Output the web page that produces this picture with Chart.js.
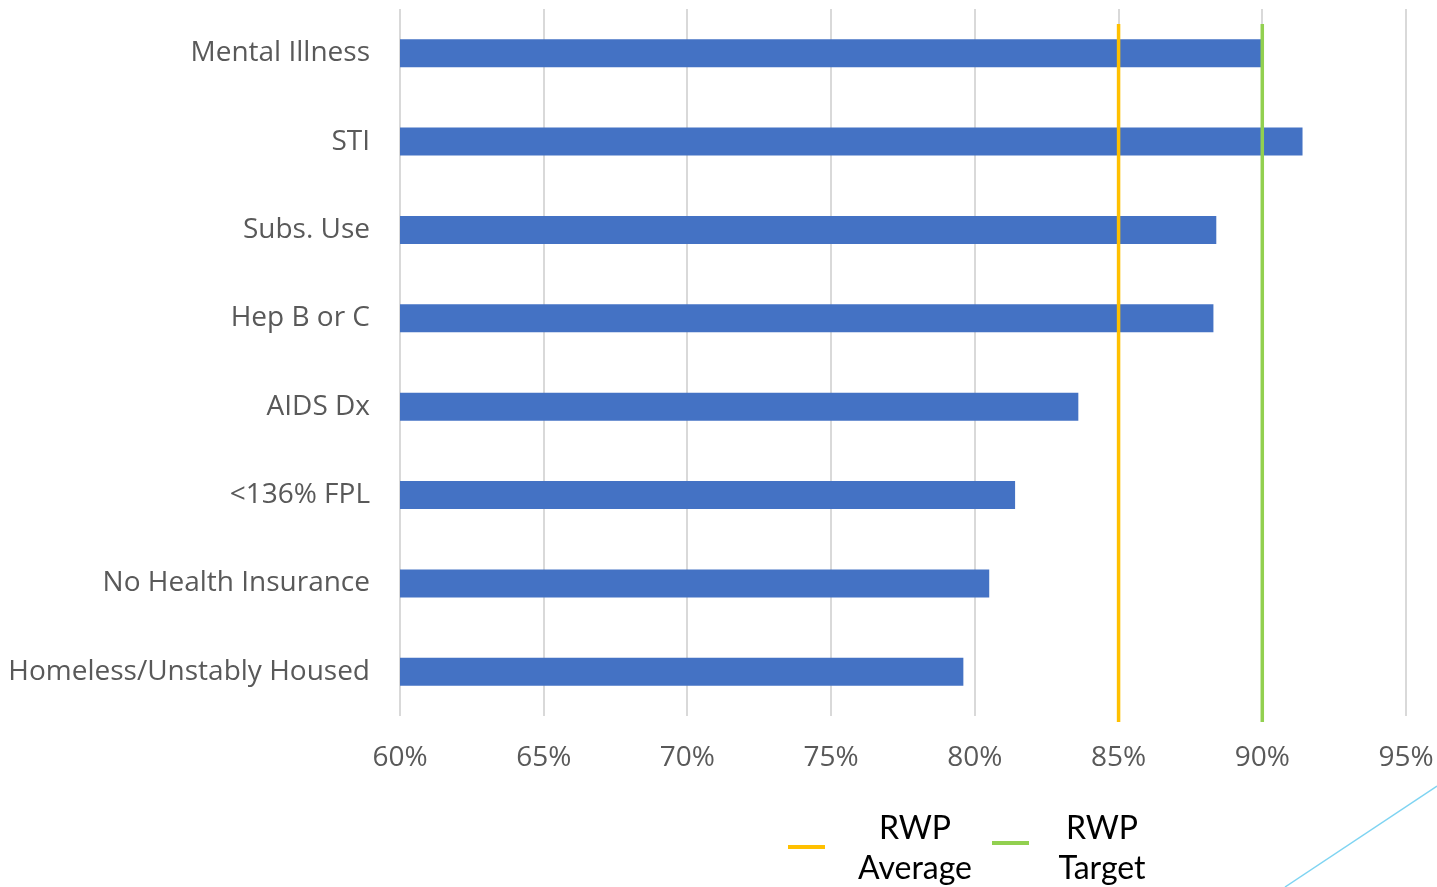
<!DOCTYPE html>
<html>
<head>
<meta charset="utf-8">
<script src="https://cdn.jsdelivr.net/npm/chart.js@4.4.1/dist/chart.umd.min.js"></script>
<style>
  html, body { margin: 0; padding: 0; background: #fff; }
  #wrap { position: relative; width: 1437px; height: 887px; overflow: hidden; }
  #myChart { position: absolute; left: 0; top: 0; }
  .leg { position: absolute; font-family: Lato, "Open Sans", sans-serif; font-size: 32px; color: #000; text-align: center; line-height: 40px; }
  .mark { position: absolute; height: 4px; }
  #deco { position: absolute; left: 0; top: 0; }
</style>
</head>
<body>
<div id="wrap">
  <canvas id="myChart" width="1437" height="887"></canvas>
  <div id="legend"></div>
  <svg id="deco" width="1437" height="887">
    <line x1="1285" y1="887" x2="1437" y2="786" stroke="#7fd4f2" stroke-width="1.5"/>
  </svg>
</div>
<script>
var groups = ["Mental Illness", "STI", "Subs. Use", "Hep B or C", "AIDS Dx", "<136% FPL", "No Health Insurance", "Homeless/Unstably Housed"];
var rates = [90.0, 91.4, 88.4, 88.3, 83.6, 81.4, 80.5, 79.6];
var refNames = [["RWP", "Average"], ["RWP", "Target"]];
var refValues = [85, 90];
var refColors = ["#FFC000", "#92D050"];
var xTicks = [60, 65, 70, 75, 80, 85, 90, 95];

// vertical reference lines, placed with the x scale
var refLines = {
    id: 'refLines',
    afterDatasetsDraw: function(chart) {
        var c = chart.ctx, area = chart.chartArea, x = chart.scales.x;
        c.save();
        refValues.forEach(function(v, i) {
            var px = x.getPixelForValue(v);
            c.strokeStyle = refColors[i];
            c.lineWidth = 3.5;
            c.beginPath();
            c.moveTo(px, area.top + 15);
            c.lineTo(px, area.bottom + 6);
            c.stroke();
        });
        c.restore();
    }
};

var ctx = document.getElementById("myChart");
var myChart = new Chart(ctx, {
    type: 'bar',
    data: {
        labels: groups,
        datasets: [
            {
                label: 'Rate',
                data: rates,
                backgroundColor: '#4472C4',
                categoryPercentage: 1,
                barPercentage: 0.317
            }
        ]
    },
    options: {
        indexAxis: 'y',
        responsive: false,
        animation: false,
        layout: { padding: { top: 9, bottom: 111, left: 0, right: 31 } },
        plugins: {
            legend: { display: false },
            tooltip: { enabled: false }
        },
        scales: {
            x: {
                type: 'linear',
                min: 60,
                max: 95,
                afterBuildTicks: function(scale) {
                    scale.ticks = xTicks.map(function(v) { return {value: v}; });
                },
                afterFit: function(scale) {
                    scale.height = 60;
                    scale.paddingLeft = 0;
                    scale.paddingRight = 0;
                },
                grid: { color: '#d9d9d9', lineWidth: 2, drawTicks: false },
                border: { display: false },
                ticks: {
                    padding: 25,
                    color: '#595959',
                    font: { family: 'Open Sans', size: 28 },
                    callback: function(v) { return v + '%'; }
                }
            },
            y: {
                afterFit: function(scale) {
                    scale.width = 400;
                    scale.paddingTop = 0;
                    scale.paddingBottom = 0;
                },
                grid: { display: false, drawTicks: false },
                border: { display: false },
                ticks: {
                    padding: 30,
                    color: '#595959',
                    font: { family: 'Open Sans', size: 28 }
                }
            }
        }
    },
    plugins: [refLines]
});

// legend drawn as html text so the two-line labels match the original
var legend = document.getElementById("legend");
var legLeft = [788, 992];
var legText = [915, 1102];
var legY = [845, 841];
refNames.forEach(function(name, i) {
    var m = document.createElement("div");
    m.className = "mark";
    m.style.left = legLeft[i] + "px";
    m.style.top = legY[i] + "px";
    m.style.width = "37px";
    m.style.background = refColors[i];
    legend.appendChild(m);
    var t = document.createElement("div");
    t.className = "leg";
    t.style.left = (legText[i] - 80) + "px";
    t.style.width = "160px";
    t.style.top = "807px";
    t.innerHTML = name.join("<br>");
    legend.appendChild(t);
});
</script>
</body>
</html>
